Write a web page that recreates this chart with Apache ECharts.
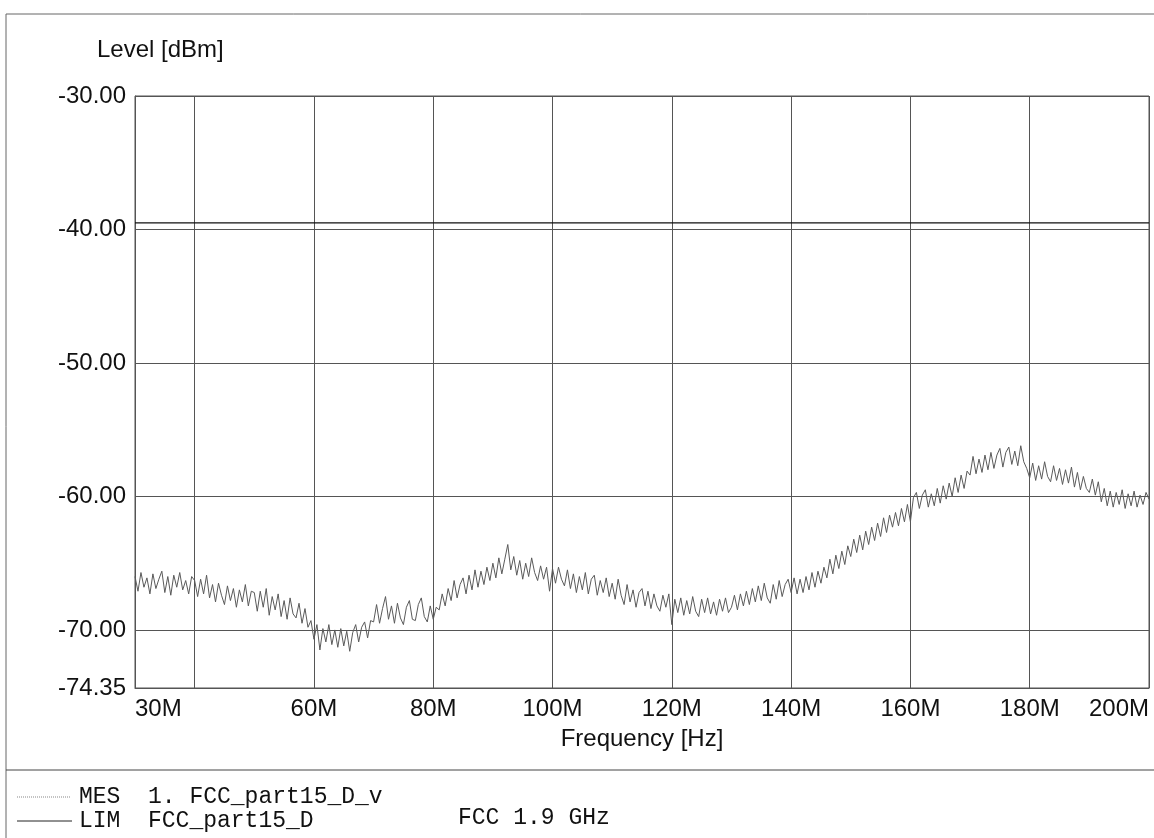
<!DOCTYPE html>
<html>
<head>
<meta charset="utf-8">
<title>Level [dBm] vs Frequency [Hz]</title>
<script src="https://cdn.jsdelivr.net/npm/echarts@6/dist/echarts.min.js"></script>
<style>
  html, body { margin: 0; padding: 0; background: #fff; }
  #chart { width: 1154px; height: 838px; }
</style>
</head>
<body>
<div id="chart"></div>
<script>
const SANS = "'Liberation Sans', Arial, sans-serif";
const MONO = "'Liberation Mono', 'Courier New', monospace";

// sweep: 30 MHz .. 200 MHz, one reading every 0.5 MHz
const FREQ_START_MHZ = 30;
const FREQ_STEP_MHZ = 0.5;

// MES trace, dBm (one row = 10 MHz)
const mesLevels = [
  -66.0, -67.1, -65.7, -66.8, -66.1, -67.3, -65.8, -66.9, -66.2, -65.6, -67.2, -66.0, -67.4, -65.9, -66.8, -65.7, -67.0, -66.3, -67.3, -66.0,
  -66.3, -67.5, -66.2, -67.3, -65.9, -67.6, -66.6, -67.9, -66.5, -67.4, -68.1, -66.7, -67.8, -66.9, -68.3, -67.0, -67.9, -66.6, -68.2, -67.1,
  -67.2, -68.6, -67.1, -68.3, -66.9, -68.9, -67.5, -68.5, -67.3, -69.0, -67.8, -69.2, -67.6, -68.8, -69.1, -68.0, -69.5, -68.4, -69.8, -69.3,
  -70.7, -69.6, -71.5, -69.9, -70.9, -69.6, -71.1, -70.0, -71.3, -69.9, -71.2, -70.1, -71.6, -70.2, -69.6, -70.9, -69.8, -69.4, -70.6, -69.3,
  -69.4, -68.1, -69.5, -68.4, -67.5, -69.2, -68.2, -69.5, -68.0, -69.1, -69.6, -68.3, -67.8, -69.2, -69.3, -68.1, -67.6, -69.0, -69.4, -68.2,
  -69.2, -68.3, -68.5, -67.3, -68.2, -66.9, -67.8, -66.3, -67.6, -66.6, -66.1, -67.3, -65.9, -67.0, -65.5, -66.8, -65.6, -66.6, -65.3, -66.3,
  -65.0, -66.1, -64.6, -65.8, -64.7, -63.6, -65.5, -64.5, -65.9, -64.8, -66.2, -65.0, -66.0, -64.6, -65.7, -66.3, -65.2, -66.2, -65.3, -67.1,
  -65.4, -66.5, -65.3, -66.2, -66.7, -65.5, -66.9, -65.8, -67.2, -66.0, -67.0, -65.7, -67.3, -66.2, -65.9, -67.4, -66.3, -67.2, -66.1, -67.5,
  -66.5, -67.7, -66.2, -67.4, -68.1, -66.6, -67.9, -67.0, -68.3, -67.2, -66.9, -68.2, -67.1, -68.4, -67.3, -68.2, -68.6, -67.4, -68.3, -67.3,
  -69.6, -67.7, -68.7, -67.6, -68.9, -67.8, -68.8, -67.5, -68.6, -69.0, -67.7, -68.7, -67.6, -68.8, -67.9, -68.9, -67.7, -68.6, -67.6, -68.7,
  -68.3, -67.4, -68.5, -67.3, -68.2, -67.1, -68.1, -66.9, -67.9, -66.7, -67.8, -66.5, -67.6, -68.0, -66.6, -67.7, -66.3, -67.5, -66.6, -66.2,
  -67.2, -66.1, -67.3, -66.2, -67.2, -66.0, -67.0, -65.7, -66.8, -65.6, -66.5, -65.3, -66.1, -64.7, -65.8, -64.4, -65.4, -64.1, -65.1, -63.7,
  -64.5, -63.2, -64.2, -62.9, -64.0, -62.6, -63.6, -62.3, -63.3, -62.0, -63.0, -61.6, -62.7, -61.4, -62.3, -61.2, -62.2, -60.9, -61.9, -60.6,
  -61.9, -60.1, -59.7, -60.9, -59.9, -59.5, -60.8, -59.8, -60.7, -59.4, -60.5, -59.2, -60.2, -59.0, -60.0, -58.6, -59.7, -58.4, -59.4, -58.1,
  -58.4, -57.0, -58.3, -57.2, -58.2, -56.9, -58.0, -56.7, -57.9, -56.9, -56.4, -57.8, -56.7, -56.3, -57.6, -56.6, -57.7, -56.2, -57.4, -57.9,
  -58.6, -57.5, -58.8, -57.7, -58.7, -57.4, -58.5, -58.9, -57.7, -58.8, -57.9, -59.1, -58.0, -59.0, -57.8, -59.3, -58.2, -59.5, -58.5, -59.4,
  -59.7, -58.7, -59.9, -58.9, -60.4, -59.4, -60.7, -59.6, -60.8, -59.7, -60.6, -59.5, -60.9, -59.8, -60.7, -59.6, -60.8, -59.9, -60.6, -59.7,
  -60.2,
];

// LIM line
const limFreqs = [30, 200];
const limLevels = [-39.5, -39.5];

// axes
const xLabelValues = [30, 60, 80, 100, 120, 140, 160, 180, 200];
const xGridValues = [40, 60, 80, 100, 120, 140, 160, 180, 200];
const yLabelValues = [-74.35, -70, -60, -50, -40, -30];
const yGridValues = [-70, -60, -50, -40, -30];

// legend block under the plot
const legendNames = ["MES", "LIM"];
const legendDescs = ["1. FCC_part15_D_v", "FCC_part15_D"];
const footNote = "FCC 1.9 GHz";

const chart = echarts.init(document.getElementById("chart"));

const mesData = mesLevels.map((level, i) => [FREQ_START_MHZ + i * FREQ_STEP_MHZ, level]);
const limData = limFreqs.map((freq, i) => [freq, limLevels[i]]);

const lineColor = "#555";
const textColor = "#111";

// legend rows: sample line, name, description
const legendRows = [
  { y: 797, stroke: "#888", dash: [1, 1], x2: 70 },
  { y: 821, stroke: "#222", dash: null, x2: 72 },
];

const legendGraphics = legendRows.flatMap((row, i) => [
  {
    type: "line",
    shape: { x1: 17, y1: row.y, x2: row.x2, y2: row.y },
    style: { stroke: row.stroke, lineWidth: 1, lineDash: row.dash },
    silent: true,
  },
  {
    type: "text",
    style: { x: 79, y: row.y, text: legendNames[i], fill: textColor, font: `23px ${MONO}`, verticalAlign: "middle" },
    silent: true,
  },
  {
    type: "text",
    style: { x: 148, y: row.y, text: legendDescs[i], fill: textColor, font: `23px ${MONO}`, verticalAlign: "middle" },
    silent: true,
  },
]);

chart.setOption({
  animation: false,
  backgroundColor: "#fff",
  grid: {
    left: 135,
    right: 5,
    top: 96,
    bottom: 150,
    show: true,
    borderColor: lineColor,
    borderWidth: 1,
  },
  xAxis: {
    type: "value",
    min: 30,
    max: 200,
    name: "Frequency [Hz]",
    nameLocation: "middle",
    nameGap: 39,
    nameTextStyle: { color: textColor, fontFamily: SANS, fontSize: 24 },
    axisLine: { show: true, lineStyle: { color: lineColor, width: 1 } },
    axisTick: { show: false, customValues: xGridValues },
    axisLabel: {
      customValues: xLabelValues,
      formatter: (v) => `${v}M`,
      color: textColor,
      fontFamily: SANS,
      fontSize: 24,
      margin: 9,
      alignMinLabel: "left",
      alignMaxLabel: "right",
    },
    splitLine: { show: true, lineStyle: { color: lineColor, width: 1 } },
  },
  yAxis: {
    type: "value",
    min: -74.35,
    max: -30,
    axisLine: { show: true, lineStyle: { color: lineColor, width: 1 } },
    axisTick: { show: false, customValues: yGridValues },
    axisLabel: {
      customValues: yLabelValues,
      formatter: (v) => Number(v).toFixed(2),
      color: textColor,
      fontFamily: SANS,
      fontSize: 24,
      margin: 9,
    },
    splitLine: { show: true, lineStyle: { color: lineColor, width: 1 } },
  },
  graphic: [
    {
      type: "rect",
      shape: { x: 6, y: 14, width: 1160, height: 840 },
      style: { fill: "none", stroke: "#666", lineWidth: 1 },
      silent: true,
    },
    {
      type: "line",
      shape: { x1: 6, y1: 770, x2: 1154, y2: 770 },
      style: { stroke: "#444", lineWidth: 1 },
      silent: true,
    },
    {
      type: "text",
      style: { x: 97, y: 50, text: "Level [dBm]", fill: textColor, font: `24px ${SANS}`, verticalAlign: "middle" },
      silent: true,
    },
    {
      type: "text",
      style: { x: 458, y: 818, text: footNote, fill: textColor, font: `23px ${MONO}`, verticalAlign: "middle" },
      silent: true,
    },
    ...legendGraphics,
  ],
  series: [
    {
      name: legendNames[0],
      type: "line",
      data: mesData,
      symbol: "none",
      showSymbol: false,
      lineStyle: { color: "#5a5a5a", width: 1 },
      z: 3,
    },
    {
      name: legendNames[1],
      type: "line",
      data: limData,
      symbol: "none",
      showSymbol: false,
      lineStyle: { color: "#111", width: 1.3 },
      z: 4,
    },
  ],
});

window.addEventListener("resize", () => chart.resize());
</script>
</body>
</html>
